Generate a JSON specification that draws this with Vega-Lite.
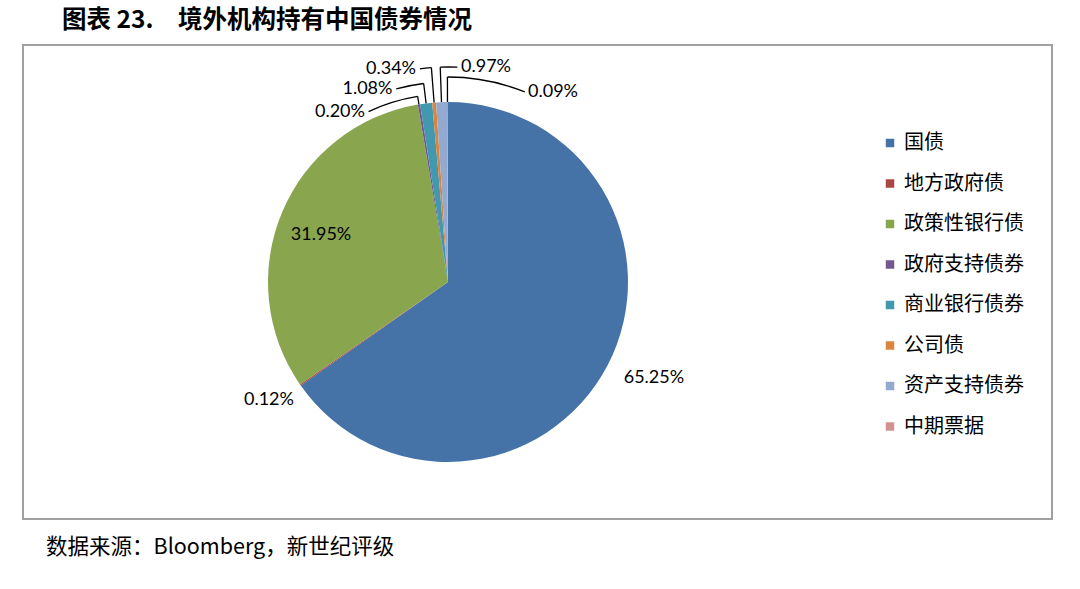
{
  "$schema": "https://vega.github.io/schema/vega-lite/v6.json",
  "width": 1029,
  "height": 474,
  "autosize": {"type": "none"},
  "padding": {"left": 23, "top": 45, "right": 28, "bottom": 70},
  "background": "white",
  "view": {"stroke": "#a0a0a0", "strokeWidth": 2},
  "title": {
    "text": "图表 23.\u3000境外机构持有中国债券情况",
    "anchor": "start",
    "frame": "group",
    "dx": 39,
    "offset": 3,
    "font": "Noto Sans CJK SC",
    "fontSize": 24.5,
    "fontWeight": "bold",
    "color": "#000000"
  },
  "config": {
    "font": "Noto Sans CJK SC",
    "view": {"stroke": "#a0a0a0", "strokeWidth": 2}
  },
  "data": {
    "values": [
      {"category": "国债", "share": 0.6525, "order": 1},
      {"category": "地方政府债", "share": 0.0012, "order": 2},
      {"category": "政策性银行债", "share": 0.3195, "order": 3},
      {"category": "政府支持债券", "share": 0.0020, "order": 4},
      {"category": "商业银行债券", "share": 0.0108, "order": 5},
      {"category": "公司债", "share": 0.0034, "order": 6},
      {"category": "资产支持债券", "share": 0.0097, "order": 7},
      {"category": "中期票据", "share": 0.0009, "order": 8}
    ]
  },
  "layer": [
    {
      "mark": {"type": "arc", "radius": 180, "xOffset": -89.5},
      "encoding": {
        "theta": {"field": "share", "type": "quantitative", "stack": true, "scale": {"domain": [0, 1]}},
        "order": {"field": "order", "type": "quantitative"},
        "color": {
          "field": "category",
          "type": "nominal",
          "scale": {
            "domain": ["国债", "地方政府债", "政策性银行债", "政府支持债券", "商业银行债券", "公司债", "资产支持债券", "中期票据"],
            "range": ["#4572A7", "#AA4643", "#89A54E", "#71588F", "#4198AF", "#DB843D", "#93A9CF", "#D19392"]
          },
          "legend": {
            "title": null,
            "orient": "none",
            "legendX": 857,
            "legendY": 88,
            "symbolType": "square",
            "symbolSize": 72,
            "symbolStrokeWidth": 0,
            "labelFont": "Noto Sans CJK SC",
            "labelFontSize": 20,
            "labelColor": "#000000",
            "labelOffset": 4,
            "rowPadding": 20.5,
            "padding": 0
          }
        }
      }
    },
    {
      "mark": {"type": "text", "radius": 228, "xOffset": -89.5, "dx": 3.6, "dy": -9, "align": "center", "baseline": "middle", "font": "Lato", "fontSize": 18, "color": "#000000"},
      "encoding": {
        "theta": {"field": "share", "type": "quantitative", "stack": true, "scale": {"domain": [0, 1]}},
        "order": {"field": "order", "type": "quantitative"},
        "text": {"condition": {"test": "datum.category === '国债'", "field": "share", "type": "quantitative", "format": ".2%"}, "value": ""}
      }
    },
    {
      "mark": {"type": "text", "radius": 214, "xOffset": -89.5, "dx": -3.5, "dy": -4.4, "align": "center", "baseline": "middle", "font": "Lato", "fontSize": 18, "color": "#000000"},
      "encoding": {
        "theta": {"field": "share", "type": "quantitative", "stack": true, "scale": {"domain": [0, 1]}},
        "order": {"field": "order", "type": "quantitative"},
        "text": {"condition": {"test": "datum.category === '地方政府债'", "field": "share", "type": "quantitative", "format": ".2%"}, "value": ""}
      }
    },
    {
      "mark": {"type": "text", "radius": 136, "xOffset": -89.5, "dx": -1.6, "dy": 5.7, "align": "center", "baseline": "middle", "font": "Lato", "fontSize": 18, "color": "#000000"},
      "encoding": {
        "theta": {"field": "share", "type": "quantitative", "stack": true, "scale": {"domain": [0, 1]}},
        "order": {"field": "order", "type": "quantitative"},
        "text": {"condition": {"test": "datum.category === '政策性银行债'", "field": "share", "type": "quantitative", "format": ".2%"}, "value": ""}
      }
    },
    {
      "mark": {"type": "text", "radius": 188, "xOffset": -89.5, "dx": -52.7, "dy": 15.1, "align": "right", "baseline": "middle", "font": "Lato", "fontSize": 18, "color": "#000000"},
      "encoding": {
        "theta": {"field": "share", "type": "quantitative", "stack": true, "scale": {"domain": [0, 1]}},
        "order": {"field": "order", "type": "quantitative"},
        "text": {"condition": {"test": "datum.category === '政府支持债券'", "field": "share", "type": "quantitative", "format": ".2%"}, "value": ""}
      }
    },
    {
      "mark": {"type": "text", "radius": 200, "xOffset": -89.5, "dx": -31.2, "dy": 5.3, "align": "right", "baseline": "middle", "font": "Lato", "fontSize": 18, "color": "#000000"},
      "encoding": {
        "theta": {"field": "share", "type": "quantitative", "stack": true, "scale": {"domain": [0, 1]}},
        "order": {"field": "order", "type": "quantitative"},
        "text": {"condition": {"test": "datum.category === '商业银行债券'", "field": "share", "type": "quantitative", "format": ".2%"}, "value": ""}
      }
    },
    {
      "mark": {"type": "text", "radius": 215, "xOffset": -89.5, "dx": -15.4, "dy": 1.2, "align": "right", "baseline": "middle", "font": "Lato", "fontSize": 18, "color": "#000000"},
      "encoding": {
        "theta": {"field": "share", "type": "quantitative", "stack": true, "scale": {"domain": [0, 1]}},
        "order": {"field": "order", "type": "quantitative"},
        "text": {"condition": {"test": "datum.category === '公司债'", "field": "share", "type": "quantitative", "format": ".2%"}, "value": ""}
      }
    },
    {
      "mark": {"type": "text", "radius": 215, "xOffset": -89.5, "dx": 20.8, "dy": 0, "align": "left", "baseline": "middle", "font": "Lato", "fontSize": 18, "color": "#000000"},
      "encoding": {
        "theta": {"field": "share", "type": "quantitative", "stack": true, "scale": {"domain": [0, 1]}},
        "order": {"field": "order", "type": "quantitative"},
        "text": {"condition": {"test": "datum.category === '资产支持债券'", "field": "share", "type": "quantitative", "format": ".2%"}, "value": ""}
      }
    },
    {
      "mark": {"type": "text", "radius": 205, "xOffset": -89.5, "dx": 80.6, "dy": 14.9, "align": "left", "baseline": "middle", "font": "Lato", "fontSize": 18, "color": "#000000"},
      "encoding": {
        "theta": {"field": "share", "type": "quantitative", "stack": true, "scale": {"domain": [0, 1]}},
        "order": {"field": "order", "type": "quantitative"},
        "text": {"condition": {"test": "datum.category === '中期票据'", "field": "share", "type": "quantitative", "format": ".2%"}, "value": ""}
      }
    },
    {
      "transform": [
        {"stack": "share", "groupby": [], "sort": [{"field": "order", "order": "ascending"}], "as": ["s0", "s1"]},
        {"filter": "datum.category === '政府支持债券'"}
      ],
      "layer": [
        {
          "mark": {"type": "arc", "radius": 188, "radius2": 180, "thetaOffset": 0.00628, "theta2Offset": 0.00628, "fillOpacity": 0, "stroke": "#000000", "strokeWidth": 1.3, "xOffset": -89.5},
          "encoding": {"theta": {"field": "s0", "type": "quantitative", "scale": {"domain": [0, 1]}}, "theta2": {"field": "s0"}}
        },
        {
          "mark": {"type": "arc", "radius": 188, "radius2": 188, "thetaOffset": 0.00628, "theta2Offset": -0.26795, "fillOpacity": 0, "stroke": "#000000", "strokeWidth": 1.3, "xOffset": -89.5},
          "encoding": {"theta": {"field": "s0", "type": "quantitative", "scale": {"domain": [0, 1]}}, "theta2": {"field": "s0"}}
        }
      ]
    },
    {
      "transform": [
        {"stack": "share", "groupby": [], "sort": [{"field": "order", "order": "ascending"}], "as": ["s0", "s1"]},
        {"filter": "datum.category === '商业银行债券'"}
      ],
      "layer": [
        {
          "mark": {"type": "arc", "radius": 200, "radius2": 180, "thetaOffset": 0.03393, "theta2Offset": 0.03393, "fillOpacity": 0, "stroke": "#000000", "strokeWidth": 1.3, "xOffset": -89.5},
          "encoding": {"theta": {"field": "s0", "type": "quantitative", "scale": {"domain": [0, 1]}}, "theta2": {"field": "s0"}}
        },
        {
          "mark": {"type": "arc", "radius": 200, "radius2": 200, "thetaOffset": 0.03393, "theta2Offset": -0.10598, "fillOpacity": 0, "stroke": "#000000", "strokeWidth": 1.3, "xOffset": -89.5},
          "encoding": {"theta": {"field": "s0", "type": "quantitative", "scale": {"domain": [0, 1]}}, "theta2": {"field": "s0"}}
        }
      ]
    },
    {
      "transform": [
        {"stack": "share", "groupby": [], "sort": [{"field": "order", "order": "ascending"}], "as": ["s0", "s1"]},
        {"filter": "datum.category === '公司债'"}
      ],
      "layer": [
        {
          "mark": {"type": "arc", "radius": 215, "radius2": 180, "thetaOffset": 0.01065, "theta2Offset": 0.01065, "fillOpacity": 0, "stroke": "#000000", "strokeWidth": 1.3, "xOffset": -89.5},
          "encoding": {"theta": {"field": "s0", "type": "quantitative", "scale": {"domain": [0, 1]}}, "theta2": {"field": "s0"}}
        },
        {
          "mark": {"type": "arc", "radius": 215, "radius2": 215, "thetaOffset": 0.01065, "theta2Offset": -0.04294, "fillOpacity": 0, "stroke": "#000000", "strokeWidth": 1.3, "xOffset": -89.5},
          "encoding": {"theta": {"field": "s0", "type": "quantitative", "scale": {"domain": [0, 1]}}, "theta2": {"field": "s0"}}
        }
      ]
    },
    {
      "transform": [
        {"stack": "share", "groupby": [], "sort": [{"field": "order", "order": "ascending"}], "as": ["s0", "s1"]},
        {"filter": "datum.category === '资产支持债券'"}
      ],
      "layer": [
        {
          "mark": {"type": "arc", "radius": 215, "radius2": 180, "thetaOffset": 0.03047, "theta2Offset": 0.03047, "fillOpacity": 0, "stroke": "#000000", "strokeWidth": 1.3, "xOffset": -89.5},
          "encoding": {"theta": {"field": "s0", "type": "quantitative", "scale": {"domain": [0, 1]}}, "theta2": {"field": "s0"}}
        },
        {
          "mark": {"type": "arc", "radius": 215, "radius2": 215, "thetaOffset": 0.03047, "theta2Offset": 0.11023, "fillOpacity": 0, "stroke": "#000000", "strokeWidth": 1.3, "xOffset": -89.5},
          "encoding": {"theta": {"field": "s0", "type": "quantitative", "scale": {"domain": [0, 1]}}, "theta2": {"field": "s0"}}
        }
      ]
    },
    {
      "transform": [
        {"stack": "share", "groupby": [], "sort": [{"field": "order", "order": "ascending"}], "as": ["s0", "s1"]},
        {"filter": "datum.category === '中期票据'"}
      ],
      "layer": [
        {
          "mark": {"type": "arc", "radius": 205, "radius2": 180, "thetaOffset": 0.00283, "theta2Offset": 0.00283, "fillOpacity": 0, "stroke": "#000000", "strokeWidth": 1.3, "xOffset": -89.5},
          "encoding": {"theta": {"field": "s0", "type": "quantitative", "scale": {"domain": [0, 1]}}, "theta2": {"field": "s0"}}
        },
        {
          "mark": {"type": "arc", "radius": 205, "radius2": 205, "thetaOffset": 0.00283, "theta2Offset": 0.38963, "fillOpacity": 0, "stroke": "#000000", "strokeWidth": 1.3, "xOffset": -89.5},
          "encoding": {"theta": {"field": "s0", "type": "quantitative", "scale": {"domain": [0, 1]}}, "theta2": {"field": "s0"}}
        }
      ]
    },
    {
      "data": {"values": [{"note": "数据来源：Bloomberg，新世纪评级"}]},
      "mark": {"type": "text", "x": 0, "y": "height", "dx": 23, "dy": 29, "align": "left", "baseline": "middle", "font": "Noto Sans CJK SC", "fontSize": 21.5, "color": "#000000"},
      "encoding": {"text": {"field": "note", "type": "nominal"}}
    }
  ]
}
